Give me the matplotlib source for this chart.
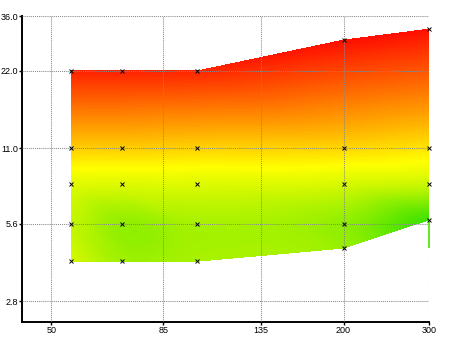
import matplotlib
matplotlib.use('Agg')
import matplotlib.pyplot as plt
import matplotlib.tri as mtri
import numpy as np
from matplotlib.colors import LinearSegmentedColormap

# measurement columns (x) with the levels sampled in each column (y)
X_COLS = [55, 70, 100, 200, 300]
Y_COLS = [
    [4.0, 5.6, 8.0, 11.0, 22.0],
    [4.0, 5.6, 8.0, 11.0, 22.0],
    [4.0, 5.6, 8.0, 11.0, 22.0],
    [4.5, 5.6, 8.0, 11.0, 29.0],
    [5.8, 8.0, 11.0, 32.0],
]
# scaled response at each sample (0 = green, 0.5 = yellow, 1 = red)
Z_COLS = [
    [0.40, 0.36, 0.43, 0.60, 0.96],
    [0.27, 0.24, 0.42, 0.60, 0.96],
    [0.29, 0.29, 0.42, 0.59, 0.95],
    [0.25, 0.23, 0.40, 0.58, 1.00],
    [0.04, 0.37, 0.55, 1.00],
]
TAIL_X = 300
TAIL_Y = [5.8, 4.5]
TAIL_Z = 0.06

X_TICKS = [50, 85, 135, 200, 300]
X_LABELS = ['50', '85', '135', '200', '300']
Y_TICKS = [2.8, 5.6, 11.0, 22.0, 36.0]
Y_LABELS = ['2.8', '5.6', '11.0', '22.0', '36.0']
X_LIM = (43.5, 300)
Y_LIM = (2.32, 36.0)

plt.rcParams['font.family'] = ['Liberation Sans', 'DejaVu Sans']

cmap = LinearSegmentedColormap.from_list('gyr', ['#30e000', '#ffff00', '#ff1000'])

# flatten the columns into point lists, keeping the index of each column
xs, ys, zs, cols = [], [], [], []
for xc, yc, zc in zip(X_COLS, Y_COLS, Z_COLS):
    idx = []
    for yv, zv in zip(yc, zc):
        idx.append(len(xs))
        xs.append(xc)
        ys.append(yv)
        zs.append(zv)
    cols.append(idx)
xs = np.array(xs, dtype=float)
ys = np.array(ys, dtype=float)
zs = np.array(zs, dtype=float)

# stitch neighbouring columns together into triangles
triangles = []
for a, b in zip(cols[:-1], cols[1:]):
    i = j = 0
    while i < len(a) - 1 or j < len(b) - 1:
        if j >= len(b) - 1 or (i < len(a) - 1 and ys[a[i + 1]] <= ys[b[j + 1]]):
            triangles.append([a[i], b[j], a[i + 1]])
            i += 1
        else:
            triangles.append([a[i], b[j], b[j + 1]])
            j += 1

# smooth the field in log-log space, then map back
tri_log = mtri.Triangulation(np.log(xs), np.log(ys), triangles)
refiner = mtri.UniformTriRefiner(tri_log)
interp = mtri.CubicTriInterpolator(tri_log, zs, kind='geom')
fine, zfine = refiner.refine_field(zs, triinterpolator=interp, subdiv=4)
tri_fine = mtri.Triangulation(np.exp(fine.x), np.exp(fine.y), fine.triangles)
zfine = np.clip(zfine, 0, 1)

fig = plt.figure(figsize=(4.5, 3.37), dpi=100)
ax = fig.add_axes([22 / 450, 1 - 322 / 337, (429 - 22) / 450, (322 - 16) / 337])
ax.set_xscale('log')
ax.set_yscale('log')

ax.tricontourf(tri_fine, zfine, levels=np.linspace(0, 1, 161), cmap=cmap,
               vmin=0, vmax=1, zorder=1)
ax.plot([TAIL_X, TAIL_X], TAIL_Y, color=cmap(TAIL_Z), lw=1.2, zorder=3.5,
        solid_capstyle='butt', clip_on=False)
ax.plot(xs, ys, 'x', color='k', ms=2.6, mew=0.7, zorder=4, clip_on=False)

ax.set_xlim(*X_LIM)
ax.set_ylim(*Y_LIM)
ax.set_xticks(X_TICKS)
ax.set_xticklabels(X_LABELS)
ax.set_yticks(Y_TICKS)
ax.set_yticklabels(Y_LABELS)
ax.minorticks_off()

ax.set_axisbelow(False)
ax.grid(True, color='#888888', linestyle=(0, (1, 1)), linewidth=0.75)
ax.tick_params(length=2, width=1, pad=1, labelsize=6.5, colors='k')
for side in ['top', 'right']:
    ax.spines[side].set_visible(False)
for side in ['left', 'bottom']:
    ax.spines[side].set_linewidth(1.4)

fig.savefig('out.png', dpi=100)
